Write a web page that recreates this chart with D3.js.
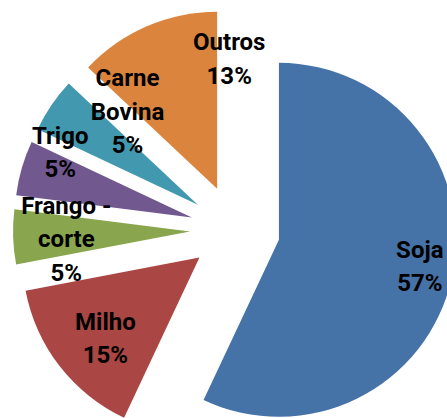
<!DOCTYPE html>
<html>
<head>
<meta charset="utf-8">
<script src="https://cdn.jsdelivr.net/npm/d3@7"></script>
<style>
  body { margin: 0; background: #fff; }
  text { font-family: Roboto, "Liberation Sans", sans-serif; font-weight: bold; }
</style>
</head>
<body>
<div id="canvas"></div>
<script>
/* CHART DATA */
const categories = ["Soja", "Milho", "Frango -\ncorte", "Trigo", "Carne\nBovina", "Outros"];
const shares = [57, 15, 5, 5, 5, 13];
const colors = ["#4572A7", "#AA4643", "#89A54E", "#71588F", "#4198AF", "#DB843D"];

/* LABEL PLACEMENT (angle shift in degrees, radius fraction) */
const labelShift = [-2, -2.8, -1.5, 10.2, 18.8, 28.7];
const labelRadius = [0.81, 0.70, 0.70, 0.83, 0.66, 0.74];

/* CREATE THE SVG CANVAS */
const width = 447;
const height = 418;
const cx = 235, cy = 230;
const radius = 177;
const explode = 45;
const lineGap = 33.5;

const svg = d3.select("#canvas")
    .append("svg")
    .attr("width", width)
    .attr("height", height);

const pie = d3.pie().sort(null).value(d => d);
const arcs = pie(shares);

const arc = d3.arc().innerRadius(0).outerRadius(radius);

function offset(d) {
    let mid = (d.startAngle + d.endAngle) / 2;
    let dx = explode * Math.sin(mid);
    let dy = -explode * Math.cos(mid);
    return "translate(" + (cx + dx) + "," + (cy + dy) + ")";
}

/* DRAW THE EXPLODED SLICES */
svg.append("g").selectAll("path")
    .data(arcs)
    .enter()
    .append("path")
    .attr("transform", offset)
    .attr("d", arc)
    .attr("fill", (d, i) => colors[i]);

/* LABELS ON TOP OF ALL SLICES */
const labels = svg.append("g").selectAll("text")
    .data(arcs)
    .enter()
    .append("text")
    .attr("transform", offset)
    .attr("text-anchor", "middle")
    .attr("font-size", 24)
    .attr("fill", "#000");

labels.each(function(d, i) {
    let mid = (d.startAngle + d.endAngle) / 2 + labelShift[i] * Math.PI / 180;
    let r = radius * labelRadius[i];
    let x = r * Math.sin(mid);
    let y = -r * Math.cos(mid);
    let lines = categories[i].split("\n").concat([shares[i] + "%"]);
    let first = y - (lines.length - 1) * lineGap / 2 + 8.5;

    lines.forEach(function(line, k) {
        d3.select(this).append("tspan")
            .attr("x", x)
            .attr("y", first + k * lineGap)
            .text(line);
    }, this);
});
</script>
</body>
</html>
